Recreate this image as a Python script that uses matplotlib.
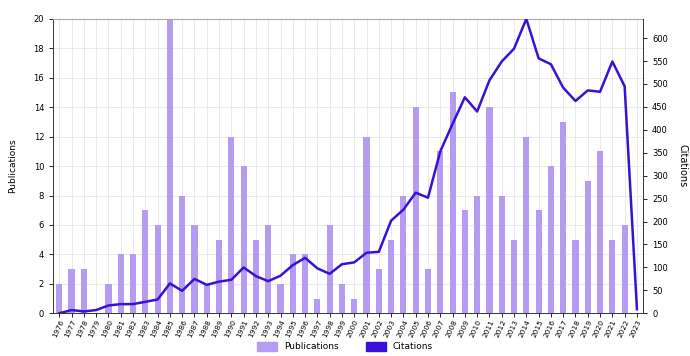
import matplotlib.pyplot as plt
import numpy as np
from matplotlib.patches import Patch

years = list(range(1976, 2024))
publications = [2, 3, 3, 0, 2, 4, 4, 7, 6, 20, 8, 6, 2, 5, 12, 10, 5, 6, 2, 4,
                4, 1, 6, 2, 1, 12, 3, 5, 8, 14, 3, 11, 15, 7, 8, 14, 8, 5, 12, 7,
                10, 13, 5, 9, 11, 5, 6, 0]
citations = [0, 7, 4, 7, 17, 20, 20, 25, 30, 65, 49, 75, 62, 69, 73, 100, 81, 70,
             82, 105, 121, 98, 86, 107, 111, 132, 134, 202, 226, 263, 252, 353,
             413, 471, 440, 508, 549, 577, 642, 556, 543, 492, 463, 486, 483, 549,
             495, 9]

bar_col = '#b59cf2'
line_col = '#3a10d8'

fig = plt.figure(figsize=(6.9, 3.56), dpi=100)
ax = fig.add_axes([0.077, 0.12, 0.855, 0.827])
x = np.arange(len(years))

ax.bar(x, publications, width=0.5, color=bar_col, zorder=2)
ax.set_xlim(-0.5, len(years) - 0.5)
ax.set_ylim(0, 20)
ax.set_yticks(range(0, 21, 2))
ax.set_xticks(x)
ax.set_xticklabels([str(y) for y in years], rotation=65, ha='right',
                   rotation_mode='anchor', fontsize=5.3)
ax.tick_params(axis='y', labelsize=6, length=3, width=0.6)
ax.tick_params(axis='x', length=3, width=0.6, pad=1)
ax.grid(True, color='#e6e6e6', linewidth=0.6, zorder=0)
ax.set_axisbelow(True)
ax.set_ylabel('Publications', fontsize=6.5, labelpad=12)
for s in ['left', 'bottom']:
    ax.spines[s].set_color('#333333')
    ax.spines[s].set_linewidth(0.7)
ax.spines['top'].set_color('#aaaaaa')
ax.spines['right'].set_visible(False)

ax2 = ax.twinx()
ax2.plot(x, citations, color=line_col, linewidth=1.8, zorder=3)
ax2.set_ylim(0, 642)
ax2.set_yticks(range(0, 601, 50))
ax2.tick_params(axis='y', labelsize=6, length=3, width=0.6)
ax2.set_ylabel('Citations', fontsize=7, rotation=270, labelpad=14)
ax2.spines['right'].set_color('#333333')
ax2.spines['right'].set_linewidth(0.7)
for s in ['left', 'top', 'bottom']:
    ax2.spines[s].set_visible(False)

handles = [Patch(color=bar_col, label='Publications'),
           Patch(color=line_col, label='Citations')]
fig.legend(handles=handles, loc='lower center', ncol=2, frameon=False,
           fontsize=6.5, bbox_to_anchor=(0.5, -0.01), handlelength=2.2,
           handleheight=1.2, columnspacing=3)

fig.savefig('out.png', dpi=100)
